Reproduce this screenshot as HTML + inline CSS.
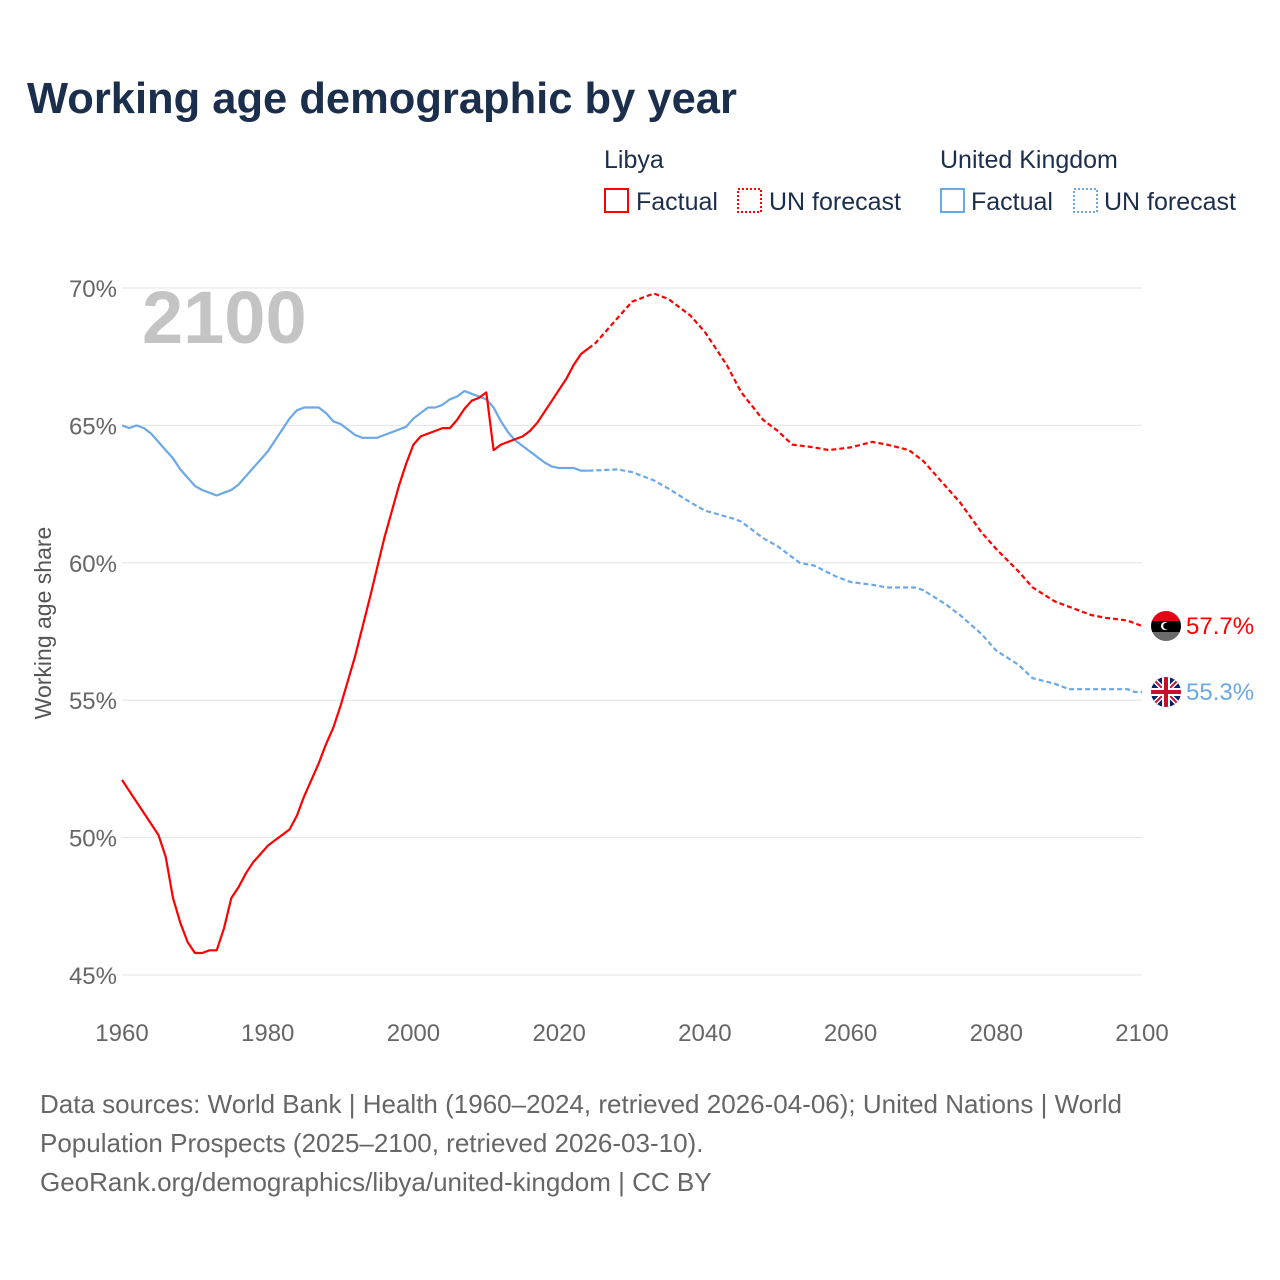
<!DOCTYPE html>
<html><head><meta charset="utf-8">
<style>
body{margin:0;background:#fff;font-family:"Liberation Sans",sans-serif;}
#wrap{position:relative;width:1280px;height:1280px;overflow:hidden;background:#fff;}
</style></head>
<body>
<div id="wrap">
<svg id="chart" width="1280" height="1280" xmlns="http://www.w3.org/2000/svg">
<text x="27" y="113" font-size="43.5" font-weight="bold" fill="#1b2e4b" font-family="Liberation Sans, sans-serif">Working age demographic by year</text>
<g font-size="25" fill="#1b2e4b">
<text x="604" y="168">Libya</text>
<text x="940" y="168">United Kingdom</text>
<g><rect x="605" y="189" width="23" height="23" fill="none" stroke="#f00" stroke-width="2"/><text x="636" y="210">Factual</text></g>
<g><rect x="738" y="189" width="23" height="23" fill="none" stroke="#f00" stroke-width="2" stroke-dasharray="2,2"/><text x="769" y="210">UN forecast</text></g>
<g><rect x="941" y="189" width="23" height="23" fill="none" stroke="#6aa8e8" stroke-width="2"/><text x="971" y="210">Factual</text></g>
<g><rect x="1074" y="189" width="23" height="23" fill="none" stroke="#6aa8e8" stroke-width="2" stroke-dasharray="2,2"/><text x="1104" y="210">UN forecast</text></g>
</g>
<text x="142" y="343" font-size="74" font-weight="bold" fill="#c4c4c4">2100</text>
<g id="grid"></g>
<g id="xaxis"></g>
<text transform="translate(51,623) rotate(-90)" text-anchor="middle" font-size="23" fill="#555">Working age share</text>
<g id="series"></g>
<g font-size="26" fill="#666">
<text x="40" y="1113">Data sources: World Bank | Health (1960–2024, retrieved 2026-04-06); United Nations | World</text>
<text x="40" y="1152">Population Prospects (2025–2100, retrieved 2026-03-10).</text>
<text x="40" y="1191">GeoRank.org/demographics/libya/united-kingdom | CC BY</text>
</g>
</svg>
</div>
<script>
const yTicks=[45,50,55,60,65,70];
const xTicks=[1960,1980,2000,2020,2040,2060,2080,2100];
const libyaFactYears=[1960,1965,1966,1967,1968,1969,1970,1971,1972,1973,1974,1975,1976,1977,1978,1979,1980,1981,1982,1983,1984,1985,1986,1987,1988,1989,1990,1992,1994,1995,1996,1998,1999,2000,2001,2002,2003,2004,2005,2006,2007,2008,2009,2010,2011,2012,2013,2014,2015,2016,2017,2018,2019,2020,2021,2022,2023,2024];
const libyaFactVals=[52.1,50.1,49.3,47.8,46.9,46.2,45.8,45.8,45.9,45.9,46.7,47.8,48.2,48.7,49.1,49.4,49.7,49.9,50.1,50.3,50.8,51.5,52.1,52.7,53.4,54.0,54.8,56.6,58.7,59.8,60.9,62.8,63.6,64.3,64.6,64.7,64.8,64.9,64.9,65.2,65.6,65.9,66.0,66.2,64.1,64.3,64.4,64.5,64.6,64.8,65.1,65.5,65.9,66.3,66.7,67.2,67.6,67.8];
const libyaFcYears=[2024,2025,2027,2030,2033,2035,2038,2040,2043,2045,2048,2050,2052,2055,2057,2060,2063,2065,2068,2070,2073,2075,2078,2080,2083,2085,2088,2090,2093,2095,2098,2100];
const libyaFcVals=[67.8,68.0,68.6,69.5,69.8,69.6,69.0,68.4,67.2,66.2,65.2,64.8,64.3,64.2,64.1,64.2,64.4,64.3,64.1,63.7,62.8,62.2,61.1,60.5,59.7,59.1,58.6,58.4,58.1,58.0,57.9,57.7];
const ukFactYears=[];for(let y=1960;y<=2024;y++)ukFactYears.push(y);
const ukFactVals=[65.0,64.9,65.0,64.9,64.7,64.4,64.1,63.8,63.4,63.1,62.8,62.65,62.55,62.45,62.55,62.65,62.85,63.15,63.45,63.75,64.05,64.45,64.85,65.25,65.55,65.65,65.65,65.65,65.45,65.15,65.05,64.85,64.65,64.55,64.55,64.55,64.65,64.75,64.85,64.95,65.25,65.45,65.65,65.65,65.75,65.95,66.05,66.25,66.15,66.05,65.95,65.65,65.15,64.75,64.45,64.25,64.05,63.85,63.65,63.5,63.45,63.45,63.45,63.35,63.35];
const ukFcYears=[2024,2028,2030,2033,2035,2038,2040,2044,2045,2048,2050,2053,2055,2058,2060,2063,2065,2069,2070,2073,2075,2078,2080,2083,2085,2088,2090,2095,2098,2099,2100];
const ukFcVals=[63.35,63.4,63.3,63.0,62.7,62.2,61.9,61.6,61.5,60.9,60.6,60.0,59.9,59.5,59.3,59.2,59.1,59.1,59.0,58.5,58.1,57.4,56.8,56.3,55.8,55.6,55.4,55.4,55.4,55.3,55.3];
const endLabels=["57.7%","55.3%"];

const NS="http://www.w3.org/2000/svg";
const X=y=>122+(y-1960)*(1142-122)/140;
const Y=v=>975-(v-45)*(975-288)/25;
function mk(t,a){const e=document.createElementNS(NS,t);for(const k in a)e.setAttribute(k,a[k]);return e;}
const grid=document.getElementById('grid');
yTicks.forEach(v=>{
 const l=mk('line',{x1:122,x2:1142,y1:Y(v),y2:Y(v),stroke:'#e4e4e4','stroke-width':1});
 
 
 grid.appendChild(l);
 const t=mk('text',{x:117,y:Y(v)+9,'text-anchor':'end','font-size':24,fill:'#666'});
 t.textContent=v+'%';
 
 
 grid.appendChild(t);
});
const xa=document.getElementById('xaxis');
xTicks.forEach(v=>{
 const t=mk('text',{x:X(v),y:1041,'text-anchor':'middle','font-size':24,fill:'#666'});
 t.textContent=v;
 
 
 xa.appendChild(t);
});
const sg=document.getElementById('series');
function line(xs,vs,color,dash,name){
 const d=xs.map((x,i)=>(i?'L':'M')+X(x).toFixed(1)+','+Y(vs[i]).toFixed(1)).join('');
 const p=mk('path',{d:d,fill:'none',stroke:color,'stroke-width':2.2,'stroke-linejoin':'round'});
 if(dash)p.setAttribute('stroke-dasharray','5,3');
 
 
 sg.appendChild(p);
}
line(ukFactYears,ukFactVals,'#6aa8e8',false,'uk-factual-line');
line(ukFcYears,ukFcVals,'#6aa8e8',true,'uk-forecast-line');
line(libyaFactYears,libyaFactVals,'#f00',false,'libya-factual-line');
line(libyaFcYears,libyaFcVals,'#f00',true,'libya-forecast-line');
const lv=libyaFcVals[libyaFcVals.length-1], uv=ukFcVals[ukFcVals.length-1];
const ly=Y(lv);
const fl=mk('g',{});


fl.innerHTML=`<clipPath id="lc"><circle cx="1166" cy="${ly}" r="15"/></clipPath><g clip-path="url(#lc)"><rect x="1150" y="${ly-16}" width="32" height="12" fill="#e70013"/><rect x="1150" y="${ly-5}" width="32" height="11" fill="#000"/><rect x="1150" y="${ly+6}" width="32" height="10" fill="#6b6b6b"/></g><circle cx="1165" cy="${ly}" r="4" fill="#fff"/><circle cx="1166.5" cy="${ly}" r="3.3" fill="#000"/>`;
sg.appendChild(fl);
const fu=mk('g',{});


const uy=Y(uv);
fu.innerHTML=`<clipPath id="uc"><circle cx="1166" cy="${uy}" r="15"/></clipPath><g clip-path="url(#uc)"><rect x="1150" y="${uy-16}" width="32" height="32" fill="#012169"/><path d="M1150,${uy-16}L1182,${uy+16}M1182,${uy-16}L1150,${uy+16}" stroke="#fff" stroke-width="5"/><path d="M1150,${uy-16}L1182,${uy+16}M1182,${uy-16}L1150,${uy+16}" stroke="#c8102e" stroke-width="2"/><path d="M1166,${uy-16}V${uy+16}M1150,${uy}H1182" stroke="#fff" stroke-width="8"/><path d="M1166,${uy-16}V${uy+16}M1150,${uy}H1182" stroke="#c8102e" stroke-width="4"/></g>`;
sg.appendChild(fu);
const t1=mk('text',{x:1186,y:ly+8,'font-size':24,fill:'#f00'});
t1.textContent=endLabels[0];


sg.appendChild(t1);
const t2=mk('text',{x:1186,y:uy+8,'font-size':24,fill:'#6aa8e8'});
t2.textContent=endLabels[1];


sg.appendChild(t2);
</script>
</body></html>
